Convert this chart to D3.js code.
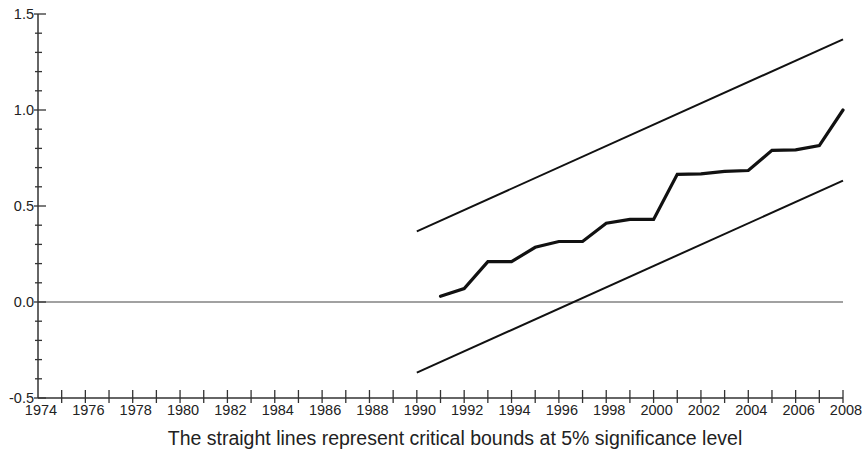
<!doctype html>
<html lang="en">
<head>
  <meta charset="utf-8">
  <title>cusum of squares</title>
  <style>
    * { margin: 0; padding: 0; box-sizing: border-box; }
    body { background: #fff; }
    text { font-family: "Liberation Sans", Arial, sans-serif; fill: #222; }
  </style>
</head>
<body>
  <div class="chart"></div>
  <script src="https://cdn.jsdelivr.net/npm/d3@7"></script>
  <script>
    // ---------------------------------------------------------------
    //@@ data
    const years = [1991, 1992, 1993, 1994, 1995, 1996, 1997, 1998, 1999,
                   2000, 2001, 2002, 2003, 2004, 2005, 2006, 2007, 2008];
    const cusumSq = [0.03, 0.07, 0.21, 0.21, 0.285, 0.315, 0.315, 0.41, 0.43,
                     0.43, 0.665, 0.667, 0.68, 0.685, 0.79, 0.792, 0.815, 1.0];
    const upperBound = [[1990, 0.368], [2008, 1.368]];
    const lowerBound = [[1990, -0.368], [2008, 0.632]];
    const yTicks = [-0.5, 0.0, 0.5, 1.0, 1.5];
    const yTickLabels = ['-0.5', '0.0', '0.5', '1.0', '1.5'];
    const xLabelYears = d3.range(1974, 2009, 2);
    const caption = 'The straight lines represent critical bounds at 5% significance level';

    // ---------------------------------------------------------------
    //@@ svg
    const W = 863, H = 455;
    const svg = d3.select('.chart').append('svg')
      .attr('width', W).attr('height', H);

    const x = d3.scaleLinear().domain([1974, 2008]).range([38, 843]);
    const y = d3.scaleLinear().domain([-0.5, 1.5]).range([398, 14]);

    //@@ zero line
    svg.append('line')
      .attr('x1', x(1974)).attr('x2', x(2008))
      .attr('y1', y(0)).attr('y2', y(0))
      .attr('stroke', '#444').attr('stroke-width', 1.2);

    //@@ y axis (minor ticks every 0.1, major every 0.5)
    const yAxis = svg.append('g');
    yAxis.append('line')
      .attr('x1', x(1974)).attr('x2', x(1974))
      .attr('y1', y(1.5)).attr('y2', y(-0.5))
      .attr('stroke', '#333').attr('stroke-width', 1.5);

    const minor = d3.range(-5, 16).map(d => d / 10).filter(d => !yTicks.some(t => Math.abs(t - d) < 1e-9));
    yAxis.selectAll('.minor').data(minor).enter().append('line')
      .attr('x1', x(1974) - 3).attr('x2', x(1974) + 4)
      .attr('y1', d => y(d)).attr('y2', d => y(d))
      .attr('stroke', '#333').attr('stroke-width', 1.3);

    yAxis.selectAll('.major').data(yTicks).enter().append('line')
      .attr('x1', x(1974) - 4).attr('x2', x(1974) + 8)
      .attr('y1', d => y(d)).attr('y2', d => y(d))
      .attr('stroke', '#333').attr('stroke-width', 1.3);

    yAxis.selectAll('text').data(yTicks).enter().append('text')
      .attr('x', x(1974) - 4)
      .attr('y', d => y(d) + 5)
      .attr('text-anchor', 'end')
      .style('font-size', '14.5px')
      .text((d, i) => yTickLabels[i]);

    //@@ x axis
    const xAxis = svg.append('g');
    xAxis.append('line')
      .attr('x1', x(1974)).attr('x2', x(2008))
      .attr('y1', y(-0.5)).attr('y2', y(-0.5))
      .attr('stroke', '#333').attr('stroke-width', 1.5);

    xAxis.selectAll('.tick').data(d3.range(1975, 2009)).enter().append('line')
      .attr('x1', d => x(d)).attr('x2', d => x(d))
      .attr('y1', y(-0.5) - 8).attr('y2', y(-0.5) + 5)
      .attr('stroke', '#333').attr('stroke-width', 1.3);

    xAxis.selectAll('text').data(xLabelYears).enter().append('text')
      .attr('x', d => x(d) + 3)
      .attr('y', y(-0.5) + 17)
      .attr('text-anchor', 'middle')
      .style('font-size', '14.5px')
      .text(d => d);

    //@@ bounds
    const line = d3.line().x(d => x(d[0])).y(d => y(d[1]));
    [upperBound, lowerBound].forEach(b => {
      svg.append('path')
        .attr('d', line(b))
        .attr('fill', 'none')
        .attr('stroke', '#111').attr('stroke-width', 2);
    });

    //@@ cusum of squares
    svg.append('path')
      .attr('d', line(years.map((yr, i) => [yr, cusumSq[i]])))
      .attr('fill', 'none')
      .attr('stroke', '#111').attr('stroke-width', 3.2)
      .attr('stroke-linejoin', 'miter').attr('stroke-linecap', 'round');

    //@@ caption
    svg.append('text')
      .attr('x', 455).attr('y', 445)
      .attr('text-anchor', 'middle')
      .style('font-size', '19.5px')
      .text(caption);
  </script>
</body>
</html>
